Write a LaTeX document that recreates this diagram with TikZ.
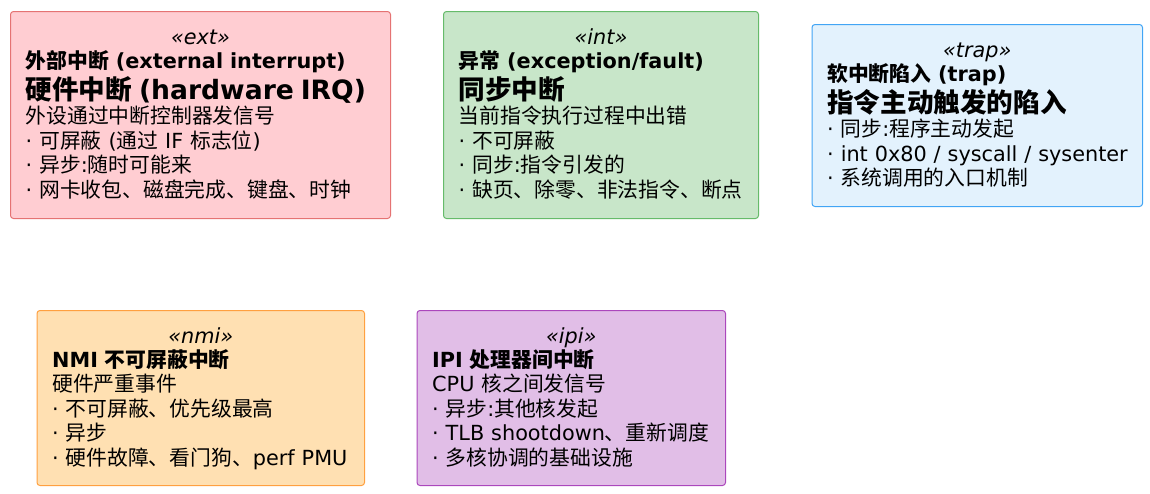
\documentclass[tikz,border=0pt]{standalone}
\usepackage{fontspec}
\setmainfont{DejaVu Sans}
\newfontfamily\latinfnt{DejaVu Sans}
\newfontfamily\cjkfnt{Noto Sans CJK SC}
\XeTeXinterchartokenstate=1
\chardef\CJKcls=7
\newcount\cjkc
\def\setcjkrange#1#2{\cjkc=#1\relax\loop\XeTeXcharclass\cjkc=\CJKcls\relax\ifnum\cjkc<#2\advance\cjkc by 1\repeat}
\setcjkrange{"4E00}{"9FFF}
\setcjkrange{"3000}{"303F}
\setcjkrange{"FF00}{"FFEF}
\XeTeXinterchartoks 0 \CJKcls = {\cjkfnt}
\XeTeXinterchartoks 4095 \CJKcls = {\cjkfnt}
\XeTeXinterchartoks \CJKcls 0 = {\latinfnt}
\XeTeXinterchartoks \CJKcls 4095 = {\latinfnt}
\def\bodyfont{\fontsize{20.8}{24.5}\selectfont\lineskiplimit=-100pt\relax}
\def\bigtitle{\fontsize{26.6}{31}\selectfont\bfseries}
\definecolor{redfill}{HTML}{FFCDD2}\definecolor{redline}{HTML}{E57373}
\definecolor{greenfill}{HTML}{C8E6C9}\definecolor{greenline}{HTML}{66BB6A}
\definecolor{bluefill}{HTML}{E3F2FD}\definecolor{blueline}{HTML}{42A5F5}
\definecolor{orangefill}{HTML}{FFE0B2}\definecolor{orangeline}{HTML}{FFA040}
\definecolor{purplefill}{HTML}{E1BEE7}\definecolor{purpleline}{HTML}{AB47BC}
\begin{document}
\begin{tikzpicture}[x=1pt,y=-1pt,
  box/.style={draw, line width=1pt, rounded corners=3pt, inner sep=0pt, anchor=north west},
  stereo/.style={anchor=base, inner sep=0pt, font=\bodyfont\itshape},
  body/.style={anchor=north west, inner sep=0pt, text width=420pt, align=left, font=\bodyfont}]
\useasboundingbox (0,0) rectangle (1150,493);

% box 1
\node[box, fill=redfill, draw=redline, minimum width=380pt, minimum height=207pt] (b1) at (10,11) {};
\node[stereo] (s1) at ([yshift=-33pt]b1.north) {«ext»};
\node[body] (t1) at ([xshift=15.5pt,yshift=-37pt]b1.north west) {\rule{0pt}{20pt}{\bfseries 外部中断 (external interrupt)}\\[6.5pt]
{\bigtitle 硬件中断 (hardware IRQ)}\\
外设通过中断控制器发信号\\
· 可屏蔽 (通过 IF 标志位)\\
· 异步:随时可能来\\
· 网卡收包、磁盘完成、键盘、时钟};

% box 2
\node[box, fill=greenfill, draw=greenline, minimum width=315pt, minimum height=207pt] (b2) at (443,11) {};
\node[stereo] (s2) at ([yshift=-33pt]b2.north) {«int»};
\node[body] (t2) at ([xshift=15.5pt,yshift=-37pt]b2.north west) {\rule{0pt}{20pt}{\bfseries 异常 (exception/fault)}\\[6.5pt]
{\bigtitle 同步中断}\\
当前指令执行过程中出错\\
· 不可屏蔽\\
· 同步:指令引发的\\
· 缺页、除零、非法指令、断点};

% box 3
\node[box, fill=bluefill, draw=blueline, minimum width=330.5pt, minimum height=182pt] (b3) at (811.5,24) {};
\node[stereo] (s3) at ([yshift=-33pt]b3.north) {«trap»};
\node[body] (t3) at ([xshift=15.5pt,yshift=-37pt]b3.north west) {\rule{0pt}{20pt}{\bfseries 软中断陷入 (trap)}\\[6.5pt]
{\bigtitle 指令主动触发的陷入}\\
· 同步:程序主动发起\\
· int 0x80 / syscall / sysenter\\
· 系统调用的入口机制};

% box 4
\node[box, fill=orangefill, draw=orangeline, minimum width=327.5pt, minimum height=175pt] (b4) at (36.5,310) {};
\node[stereo] (s4) at ([yshift=-33pt]b4.north) {«nmi»};
\node[body] (t4) at ([xshift=15.5pt,yshift=-37pt]b4.north west) {\rule{0pt}{20pt}{\bfseries NMI 不可屏蔽中断}\\
硬件严重事件\\
· 不可屏蔽、优先级最高\\
· 异步\\
· 硬件故障、看门狗、perf PMU};

% box 5
\node[box, fill=purplefill, draw=purpleline, minimum width=308.5pt, minimum height=175pt] (b5) at (416.5,310) {};
\node[stereo] (s5) at ([yshift=-33pt]b5.north) {«ipi»};
\node[body] (t5) at ([xshift=15.5pt,yshift=-37pt]b5.north west) {\rule{0pt}{20pt}{\bfseries IPI 处理器间中断}\\
CPU 核之间发信号\\
· 异步:其他核发起\\
· TLB shootdown、重新调度\\
· 多核协调的基础设施};
\end{tikzpicture}
\end{document}
